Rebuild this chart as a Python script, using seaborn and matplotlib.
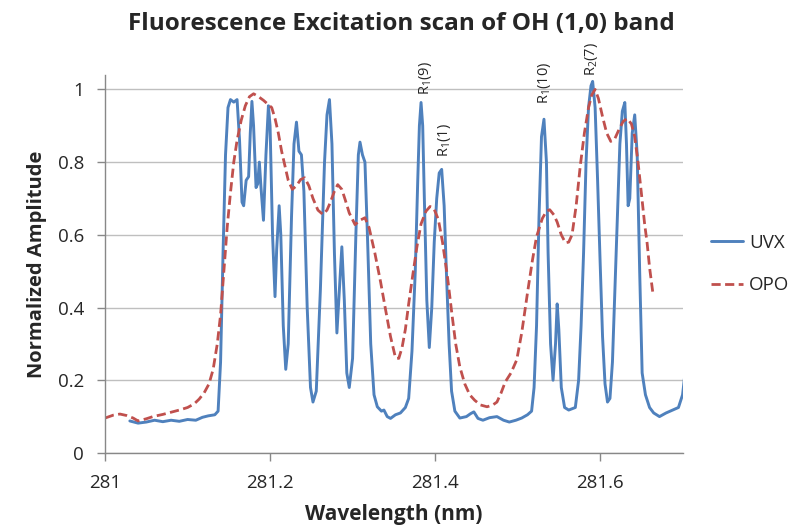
import pandas as pd
import matplotlib
matplotlib.use("Agg")
import matplotlib.pyplot as plt
import matplotlib.ticker as mticker
import seaborn as sns

# UVX scan (wavelength nm, normalized amplitude)
uvx_wl = [281.030, 281.040, 281.050, 281.060, 281.070, 281.080, 281.090, 281.100, 281.110, 281.118,
          281.125, 281.133, 281.137, 281.140, 281.143, 281.146, 281.149, 281.152, 281.156, 281.160,
          281.163, 281.166, 281.168, 281.171, 281.174, 281.176, 281.178, 281.180, 281.183, 281.185,
          281.187, 281.189, 281.192, 281.195, 281.198, 281.200, 281.203, 281.206, 281.208, 281.211,
          281.213, 281.216, 281.219, 281.222, 281.226, 281.229, 281.232, 281.235, 281.238, 281.241,
          281.245, 281.249, 281.252, 281.256, 281.261, 281.266, 281.269, 281.272, 281.275, 281.278,
          281.281, 281.284, 281.287, 281.290, 281.293, 281.296, 281.300, 281.304, 281.307, 281.309,
          281.312, 281.315, 281.318, 281.322, 281.326, 281.330, 281.335, 281.338, 281.342, 281.346,
          281.352, 281.358, 281.364, 281.368, 281.372, 281.376, 281.379, 281.381, 281.383, 281.385,
          281.387, 281.390, 281.393, 281.396, 281.399, 281.402, 281.405, 281.408, 281.411, 281.414,
          281.417, 281.420, 281.424, 281.430, 281.438, 281.443, 281.447, 281.452, 281.458, 281.466,
          281.475, 281.483, 281.490, 281.498, 281.505, 281.512, 281.517, 281.520, 281.523, 281.526,
          281.529, 281.532, 281.535, 281.537, 281.540, 281.543, 281.546, 281.548, 281.550, 281.553,
          281.557, 281.562, 281.570, 281.574, 281.577, 281.580, 281.583, 281.586, 281.589, 281.591,
          281.594, 281.597, 281.600, 281.603, 281.606, 281.609, 281.612, 281.615, 281.618, 281.621,
          281.624, 281.627, 281.630, 281.632, 281.634, 281.636, 281.639, 281.642, 281.645, 281.648,
          281.651, 281.655, 281.660, 281.665, 281.672, 281.680, 281.688, 281.695, 281.700, 281.704]
uvx_amp = [0.088, 0.082, 0.085, 0.090, 0.086, 0.090, 0.087, 0.092, 0.090, 0.098,
           0.102, 0.105, 0.115, 0.250, 0.550, 0.820, 0.950, 0.972, 0.965, 0.972,
           0.860, 0.690, 0.680, 0.750, 0.760, 0.880, 0.967, 0.900, 0.730, 0.740,
           0.800, 0.730, 0.640, 0.820, 0.955, 0.900, 0.600, 0.430, 0.560, 0.680,
           0.600, 0.350, 0.230, 0.300, 0.650, 0.850, 0.910, 0.830, 0.820, 0.720,
           0.400, 0.180, 0.140, 0.170, 0.450, 0.800, 0.930, 0.972, 0.850, 0.550,
           0.330, 0.450, 0.567, 0.420, 0.220, 0.180, 0.260, 0.600, 0.820, 0.855,
           0.820, 0.800, 0.600, 0.300, 0.160, 0.127, 0.115, 0.118, 0.100, 0.095,
           0.105, 0.110, 0.125, 0.150, 0.280, 0.500, 0.750, 0.900, 0.964, 0.900,
           0.700, 0.420, 0.290, 0.400, 0.580, 0.700, 0.770, 0.780, 0.680, 0.480,
           0.300, 0.170, 0.115, 0.096, 0.100, 0.108, 0.113, 0.095, 0.090, 0.097,
           0.100, 0.090, 0.085, 0.090, 0.096, 0.105, 0.115, 0.180, 0.350, 0.650,
           0.870, 0.918, 0.800, 0.550, 0.300, 0.200, 0.300, 0.410, 0.340, 0.180,
           0.125, 0.118, 0.125, 0.200, 0.350, 0.550, 0.800, 0.950, 1.010, 1.022,
           0.950, 0.750, 0.530, 0.320, 0.190, 0.140, 0.150, 0.250, 0.450, 0.650,
           0.850, 0.940, 0.964, 0.850, 0.680, 0.700, 0.880, 0.930, 0.820, 0.500,
           0.220, 0.160, 0.125, 0.110, 0.100, 0.110, 0.118, 0.125, 0.160, 0.240]

# OPO scan
opo_wl = [281.000, 281.010, 281.018, 281.026, 281.034, 281.040, 281.050, 281.058, 281.070, 281.080,
          281.090, 281.100, 281.108, 281.114, 281.120, 281.126, 281.131, 281.136, 281.140, 281.144,
          281.148, 281.152, 281.156, 281.160, 281.165, 281.170, 281.175, 281.180, 281.186, 281.192,
          281.197, 281.202, 281.206, 281.210, 281.214, 281.218, 281.222, 281.227, 281.232, 281.237,
          281.242, 281.247, 281.252, 281.258, 281.264, 281.269, 281.273, 281.278, 281.282, 281.287,
          281.291, 281.296, 281.303, 281.309, 281.315, 281.320, 281.327, 281.334, 281.340, 281.346,
          281.352, 281.356, 281.360, 281.364, 281.368, 281.373, 281.378, 281.383, 281.389, 281.394,
          281.399, 281.404, 281.409, 281.415, 281.420, 281.425, 281.430, 281.436, 281.442, 281.448,
          281.455, 281.463, 281.470, 281.475, 281.480, 281.485, 281.492, 281.499, 281.505, 281.512,
          281.518, 281.523, 281.530, 281.535, 281.539, 281.544, 281.548, 281.553, 281.558, 281.562,
          281.566, 281.571, 281.576, 281.581, 281.586, 281.590, 281.594, 281.598, 281.603, 281.608,
          281.613, 281.618, 281.623, 281.628, 281.633, 281.638, 281.642, 281.646, 281.650, 281.654,
          281.657, 281.660, 281.664]
opo_amp = [0.096, 0.104, 0.107, 0.103, 0.096, 0.088, 0.094, 0.100, 0.106, 0.112,
           0.118, 0.125, 0.135, 0.148, 0.165, 0.190, 0.230, 0.300, 0.380, 0.500,
           0.620, 0.716, 0.800, 0.860, 0.915, 0.955, 0.980, 0.988, 0.980, 0.970,
           0.960, 0.950, 0.920, 0.880, 0.830, 0.790, 0.750, 0.725, 0.735, 0.752,
           0.757, 0.735, 0.700, 0.668, 0.656, 0.668, 0.689, 0.720, 0.738, 0.725,
           0.697, 0.660, 0.628, 0.640, 0.647, 0.620, 0.550, 0.470, 0.394, 0.320,
           0.262, 0.260, 0.290, 0.340, 0.410, 0.490, 0.567, 0.630, 0.665, 0.678,
           0.670, 0.642, 0.580, 0.485, 0.390, 0.300, 0.237, 0.190, 0.160, 0.145,
           0.132, 0.127, 0.132, 0.140, 0.165, 0.195, 0.220, 0.256, 0.330, 0.440,
           0.530, 0.595, 0.645, 0.665, 0.669, 0.655, 0.635, 0.600, 0.578, 0.580,
           0.600, 0.680, 0.790, 0.880, 0.950, 0.985, 1.000, 0.975, 0.925, 0.880,
           0.857, 0.865, 0.890, 0.912, 0.920, 0.905, 0.870, 0.800, 0.716, 0.630,
           0.578, 0.510, 0.440]

# line labels
peak_labels = ["R$_1$(9)", "R$_1$(1)", "R$_1$(10)", "R$_2$(7)"]
peak_wl = [281.388, 281.411, 281.533, 281.590]
peak_y = [0.986, 0.815, 0.959, 1.036]

sns.set_theme(style="white")
plt.rcParams['font.family'] = ['Open Sans', 'DejaVu Sans']
plt.rcParams['mathtext.fontset'] = 'custom'
plt.rcParams['mathtext.rm'] = 'Open Sans'
plt.rcParams['mathtext.it'] = 'Open Sans'

df_uvx = pd.DataFrame({'wl': uvx_wl, 'amp': uvx_amp})
df_opo = pd.DataFrame({'wl': opo_wl, 'amp': opo_amp})

fig = plt.figure(figsize=(7.96, 5.31), dpi=100)
ax = fig.add_axes([0.132, 0.147, 0.7255, 0.712])

sns.lineplot(data=df_uvx, x='wl', y='amp', ax=ax, color='#4F81BD', linewidth=2.1,
             label='UVX', estimator=None, sort=False)
sns.lineplot(data=df_opo, x='wl', y='amp', ax=ax, color='#C0504D', linewidth=2.0,
             linestyle=(0, (3.3, 1.6)), label='OPO', estimator=None, sort=False)

ax.set_xlim(281, 281.7)
ax.set_ylim(0, 1.04)
ax.set_xticks([281, 281.2, 281.4, 281.6])
ax.set_yticks([0, 0.2, 0.4, 0.6, 0.8, 1.0])
ax.xaxis.set_major_formatter(mticker.FuncFormatter(lambda v, p: f"{v:g}"))
ax.yaxis.set_major_formatter(mticker.FuncFormatter(lambda v, p: f"{v:g}"))
ax.yaxis.grid(True, color='#BFBFBF', linewidth=1)
ax.xaxis.grid(False)
for s in ['top', 'right']:
    ax.spines[s].set_visible(False)
for s in ['left', 'bottom']:
    ax.spines[s].set_color('#888888')
    ax.spines[s].set_linewidth(1)
ax.tick_params(axis='both', bottom=True, left=True, direction='out', length=6,
               width=1, color='#888888', labelsize=13.5, pad=9)

ax.set_xlabel('Wavelength (nm)', fontsize=15, fontweight='bold', labelpad=9)
ax.set_ylabel('Normalized Amplitude', fontsize=14.5, fontweight='bold', labelpad=8)

for lbl, xv, yv in zip(peak_labels, peak_wl, peak_y):
    ax.text(xv, yv, lbl, rotation=90, ha='center', va='bottom', fontsize=10.5)

fig.text(0.504, 0.955, 'Fluorescence Excitation scan of OH (1,0) band',
         ha='center', va='center', fontsize=17.5, fontweight='bold')

ax.legend(loc='center left', bbox_to_anchor=(1.05, 0.5), frameon=False, fontsize=13.5,
          handlelength=1.7, handletextpad=0.3, labelspacing=1.3, borderpad=0, borderaxespad=0)

fig.savefig('out.png', dpi=100)
